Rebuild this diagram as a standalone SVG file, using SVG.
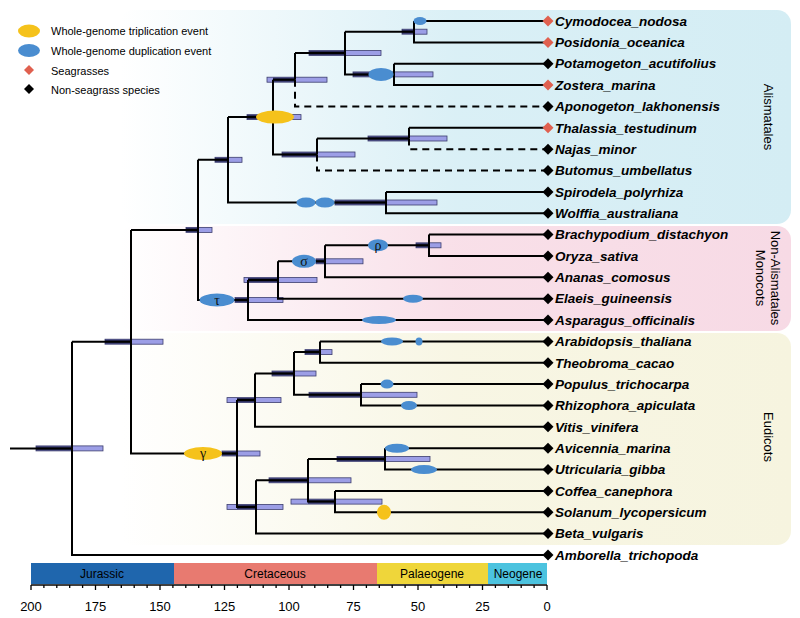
<svg xmlns="http://www.w3.org/2000/svg" width="800" height="618" viewBox="0 0 800 618">
<defs>
<linearGradient id="gBlue" x1="0" y1="0" x2="1" y2="0"><stop offset="0" stop-color="#d6eef5" stop-opacity="0"/><stop offset="0.5" stop-color="#d6eef5" stop-opacity="0.9"/><stop offset="1" stop-color="#d4edf4"/></linearGradient>
<linearGradient id="gPink" x1="0" y1="0" x2="1" y2="0"><stop offset="0" stop-color="#f8dce6" stop-opacity="0"/><stop offset="0.5" stop-color="#f8dce6" stop-opacity="0.9"/><stop offset="1" stop-color="#f7dae5"/></linearGradient>
<linearGradient id="gCream" x1="0" y1="0" x2="1" y2="0"><stop offset="0" stop-color="#f7f5e1" stop-opacity="0"/><stop offset="0.5" stop-color="#f7f5e1" stop-opacity="0.9"/><stop offset="1" stop-color="#f6f4df"/></linearGradient>
<style>
.br{fill:none;stroke:#000;stroke-width:2}
.da{fill:none;stroke:#000;stroke-width:2;stroke-dasharray:7,5}
.bl{fill:#9c9ee6;stroke:#3c3e6e;stroke-width:0.8}
.bd{fill:#2c2e5c}
.wgd{fill:#4a8dd0}
.wgt{fill:#f5c21b}
.sp{font-family:"Liberation Sans",Arial,sans-serif;font-size:13.5px;font-weight:bold;font-style:italic;fill:#000}
.lg{font-family:"Liberation Sans",Arial,sans-serif;font-size:11px;fill:#000}
.cl{font-family:"Liberation Sans",Arial,sans-serif;font-size:13px;fill:#000}
.gk{font-family:"Liberation Serif","Times New Roman",serif;font-size:14px;fill:#111;text-anchor:middle}
.ax{font-family:"Liberation Sans",Arial,sans-serif;font-size:13px;fill:#000;text-anchor:middle}
.pr{font-family:"Liberation Sans",Arial,sans-serif;font-size:12px;fill:#000;text-anchor:middle}
.sg{fill:#e0604f}
.ns{fill:#000}
</style>
</defs>
<rect width="800" height="618" fill="#fff"/>
<g id="clades">
<rect x="120" y="10" width="671" height="214" rx="14" fill="url(#gBlue)"/>
<rect x="120" y="226" width="671" height="105" rx="14" fill="url(#gPink)"/>
<rect x="120" y="333" width="671" height="212" rx="14" fill="url(#gCream)"/>
<text class="cl" transform="translate(764,117) rotate(90)" text-anchor="middle">Alismatales</text>
<text class="cl" transform="translate(771,278) rotate(90)" text-anchor="middle">Non-Alismatales</text>
<text class="cl" transform="translate(756,278) rotate(90)" text-anchor="middle">Monocots</text>
<text class="cl" transform="translate(764,437) rotate(90)" text-anchor="middle">Eudicots</text>
</g>
<g id="legend">
<ellipse class="wgt" cx="29" cy="31" rx="11" ry="6.5"/>
<text class="lg" x="51" y="35">Whole-genome triplication event</text>
<ellipse class="wgd" cx="29" cy="50.5" rx="11" ry="6.5"/>
<text class="lg" x="51" y="55">Whole-genome duplication event</text>
<polygon class="sg" points="29,65 34,70 29,75 24,70"/>
<text class="lg" x="51" y="75">Seagrasses</text>
<polygon class="ns" points="29,84 34,89 29,94 24,89"/>
<text class="lg" x="51" y="94">Non-seagrass species</text>
</g>
<g id="bars">
<rect class="bl" x="36" y="445.9" width="67" height="5"/><rect class="bd" x="36" y="446.3" width="36" height="4.2"/>
<rect class="bl" x="105" y="339.2" width="58" height="5"/><rect class="bd" x="105" y="339.6" width="26" height="4.2"/>
<rect class="bl" x="186" y="227.4" width="26" height="5"/><rect class="bd" x="186" y="227.8" width="12" height="4.2"/>
<rect class="bl" x="215" y="157.3" width="27" height="5"/><rect class="bd" x="215" y="157.7" width="13" height="4.2"/>
<rect class="bl" x="247" y="114.6" width="54" height="5"/><rect class="bd" x="247" y="115" width="26" height="4.2"/>
<rect class="bl" x="267" y="77.2" width="60" height="5"/><rect class="bd" x="273" y="77.6" width="22" height="4.2"/>
<rect class="bl" x="309" y="50.5" width="72" height="5"/><rect class="bd" x="309" y="50.9" width="36" height="4.2"/>
<rect class="bl" x="402" y="29.2" width="25" height="5"/><rect class="bd" x="402" y="29.6" width="12" height="4.2"/>
<rect class="bl" x="353" y="71.9" width="80" height="5"/><rect class="bd" x="353" y="72.3" width="41" height="4.2"/>
<rect class="bl" x="282" y="152" width="73" height="5"/><rect class="bd" x="282" y="152.4" width="35" height="4.2"/>
<rect class="bl" x="368" y="136" width="79" height="5"/><rect class="bd" x="368" y="136.4" width="41" height="4.2"/>
<rect class="bl" x="335" y="200" width="102" height="5"/><rect class="bd" x="335" y="200.4" width="51" height="4.2"/>
<rect class="bl" x="235" y="297.5" width="48" height="5"/><rect class="bd" x="235" y="297.9" width="13" height="4.2"/>
<rect class="bl" x="244" y="277.5" width="73" height="5"/><rect class="bd" x="248" y="277.9" width="30" height="4.2"/>
<rect class="bl" x="316" y="258.8" width="47" height="5"/><rect class="bd" x="316" y="259.2" width="9" height="4.2"/>
<rect class="bl" x="416" y="242.8" width="25" height="5"/><rect class="bd" x="416" y="243.2" width="13" height="4.2"/>
<rect class="bl" x="222" y="451" width="38" height="5"/><rect class="bd" x="222" y="451.4" width="15" height="4.2"/>
<rect class="bl" x="227" y="397.6" width="54" height="5"/><rect class="bd" x="237" y="398" width="18" height="4.2"/>
<rect class="bl" x="272" y="371" width="44" height="5"/><rect class="bd" x="272" y="371.4" width="22" height="4.2"/>
<rect class="bl" x="305" y="349.6" width="27" height="5"/><rect class="bd" x="305" y="350" width="15" height="4.2"/>
<rect class="bl" x="309" y="392.3" width="108" height="5"/><rect class="bd" x="309" y="392.7" width="52" height="4.2"/>
<rect class="bl" x="227" y="504.4" width="56" height="5"/><rect class="bd" x="237" y="504.8" width="19" height="4.2"/>
<rect class="bl" x="269" y="477.8" width="82" height="5"/><rect class="bd" x="269" y="478.2" width="39" height="4.2"/>
<rect class="bl" x="337" y="456.4" width="93" height="5"/><rect class="bd" x="337" y="456.8" width="48" height="4.2"/>
<rect class="bl" x="291" y="499.1" width="91" height="5"/><rect class="bd" x="308" y="499.5" width="27" height="4.2"/>
</g>
<g id="connectors">
<path class="br" d="M10,448.4H72M72,341.7V555H548M72,341.7H131M131,229.9V453.5H237M131,229.9H198M198,159.8V300H248M198,159.8H228M228,117.1V202.6H386M228,117.1H273M273,79.7V154.5H317M273,79.7H295M295,53V79.7M295,53H345M345,31.7V74.4H394M345,31.7H414M414,21V42.4H548M414,21H548M394,63.7V85.1H548M394,63.7H548M317,138.5V154.5M317,138.5H409M409,127.8V138.5M409,127.8H548M386,191.9V213.2H548M386,191.9H548"/>
<path class="da" d="M295,79.7V106.4H548M317,154.5V170.5H548M409,138.5V149.2H548"/>
<path class="br" d="M248,280V320H548M248,280H278M278,261.3V298.7H548M278,261.3H325M325,245.3V277.3H548M325,245.3H429M429,234.6V256H548M429,234.6H548"/>
<path class="br" d="M237,400.1V506.9H256M237,400.1H255M255,373.5V426.8H548M255,373.5H294M294,352.1V394.8H361M294,352.1H320M320,341.4V362.8H548M320,341.4H548M361,384.1V405.5H548M361,384.1H548M256,480.3V533.6H548M256,480.3H308M308,458.9V501.6H335M308,458.9H385M385,448.2V469.6H548M385,448.2H548M335,490.9V512.3H548M335,490.9H548"/>
</g>
<g id="events">
<ellipse class="wgd" cx="420" cy="21" rx="6.5" ry="4"/>
<ellipse class="wgd" cx="381" cy="74.4" rx="12.5" ry="6.5"/>
<ellipse class="wgt" cx="275" cy="117.1" rx="19" ry="6.5"/>
<ellipse class="wgd" cx="306" cy="202.6" rx="9.5" ry="5"/>
<ellipse class="wgd" cx="325" cy="202.6" rx="9.5" ry="5"/>
<ellipse class="wgd" cx="217" cy="300" rx="17.5" ry="6.5"/><text class="gk" x="217" y="304.5">τ</text>
<ellipse class="wgd" cx="304" cy="261.3" rx="12" ry="6.5"/><text class="gk" x="304" y="265.5">σ</text>
<ellipse class="wgd" cx="378" cy="245.3" rx="10" ry="6"/><text class="gk" x="378" y="249.5">ρ</text>
<ellipse class="wgd" cx="413" cy="298.7" rx="10" ry="4"/>
<ellipse class="wgd" cx="379" cy="320" rx="17" ry="4"/>
<ellipse class="wgd" cx="392" cy="341.4" rx="11" ry="4"/>
<ellipse class="wgd" cx="419" cy="341.4" rx="3.5" ry="4"/>
<ellipse class="wgt" cx="203" cy="453.5" rx="19" ry="6.5"/><text class="gk" x="203" y="458">γ</text>
<ellipse class="wgd" cx="387" cy="384.1" rx="6.5" ry="4.5"/>
<ellipse class="wgd" cx="409" cy="405.5" rx="8" ry="4.5"/>
<ellipse class="wgd" cx="397" cy="448.2" rx="12" ry="4.5"/>
<ellipse class="wgd" cx="424" cy="469.6" rx="13" ry="4.5"/>
<ellipse class="wgt" cx="384" cy="512.3" rx="7" ry="7.5"/>
</g>
<g id="leaves">
<g id="Cymodocea_nodosa"><polygon class="sg" points="548,15.5 553.5,21 548,26.5 542.5,21"/><text class="sp" x="555" y="25.7">Cymodocea_nodosa</text></g>
<g id="Posidonia_oceanica"><polygon class="sg" points="548,36.9 553.5,42.4 548,47.9 542.5,42.4"/><text class="sp" x="555" y="47.1">Posidonia_oceanica</text></g>
<g id="Potamogeton_acutifolius"><polygon class="ns" points="548,58.2 553.5,63.7 548,69.2 542.5,63.7"/><text class="sp" x="555" y="68.4">Potamogeton_acutifolius</text></g>
<g id="Zostera_marina"><polygon class="sg" points="548,79.6 553.5,85.1 548,90.6 542.5,85.1"/><text class="sp" x="555" y="89.8">Zostera_marina</text></g>
<g id="Aponogeton_lakhonensis"><polygon class="ns" points="548,100.9 553.5,106.4 548,111.9 542.5,106.4"/><text class="sp" x="555" y="111.1">Aponogeton_lakhonensis</text></g>
<g id="Thalassia_testudinum"><polygon class="sg" points="548,122.3 553.5,127.8 548,133.3 542.5,127.8"/><text class="sp" x="555" y="132.5">Thalassia_testudinum</text></g>
<g id="Najas_minor"><polygon class="ns" points="548,143.7 553.5,149.2 548,154.7 542.5,149.2"/><text class="sp" x="555" y="153.9">Najas_minor</text></g>
<g id="Butomus_umbellatus"><polygon class="ns" points="548,165 553.5,170.5 548,176 542.5,170.5"/><text class="sp" x="555" y="175.2">Butomus_umbellatus</text></g>
<g id="Spirodela_polyrhiza"><polygon class="ns" points="548,186.4 553.5,191.9 548,197.4 542.5,191.9"/><text class="sp" x="555" y="196.6">Spirodela_polyrhiza</text></g>
<g id="Wolffia_australiana"><polygon class="ns" points="548,207.7 553.5,213.2 548,218.7 542.5,213.2"/><text class="sp" x="555" y="217.9">Wolffia_australiana</text></g>
<g id="Brachypodium_distachyon"><polygon class="ns" points="548,229.1 553.5,234.6 548,240.1 542.5,234.6"/><text class="sp" x="555" y="239.3">Brachypodium_distachyon</text></g>
<g id="Oryza_sativa"><polygon class="ns" points="548,250.5 553.5,256 548,261.5 542.5,256"/><text class="sp" x="555" y="260.7">Oryza_sativa</text></g>
<g id="Ananas_comosus"><polygon class="ns" points="548,271.8 553.5,277.3 548,282.8 542.5,277.3"/><text class="sp" x="555" y="282">Ananas_comosus</text></g>
<g id="Elaeis_guineensis"><polygon class="ns" points="548,293.2 553.5,298.7 548,304.2 542.5,298.7"/><text class="sp" x="555" y="303.4">Elaeis_guineensis</text></g>
<g id="Asparagus_officinalis"><polygon class="ns" points="548,314.5 553.5,320 548,325.5 542.5,320"/><text class="sp" x="555" y="324.7">Asparagus_officinalis</text></g>
<g id="Arabidopsis_thaliana"><polygon class="ns" points="548,335.9 553.5,341.4 548,346.9 542.5,341.4"/><text class="sp" x="555" y="346.1">Arabidopsis_thaliana</text></g>
<g id="Theobroma_cacao"><polygon class="ns" points="548,357.3 553.5,362.8 548,368.3 542.5,362.8"/><text class="sp" x="555" y="367.5">Theobroma_cacao</text></g>
<g id="Populus_trichocarpa"><polygon class="ns" points="548,378.6 553.5,384.1 548,389.6 542.5,384.1"/><text class="sp" x="555" y="388.8">Populus_trichocarpa</text></g>
<g id="Rhizophora_apiculata"><polygon class="ns" points="548,400 553.5,405.5 548,411 542.5,405.5"/><text class="sp" x="555" y="410.2">Rhizophora_apiculata</text></g>
<g id="Vitis_vinifera"><polygon class="ns" points="548,421.3 553.5,426.8 548,432.3 542.5,426.8"/><text class="sp" x="555" y="431.5">Vitis_vinifera</text></g>
<g id="Avicennia_marina"><polygon class="ns" points="548,442.7 553.5,448.2 548,453.7 542.5,448.2"/><text class="sp" x="555" y="452.9">Avicennia_marina</text></g>
<g id="Utricularia_gibba"><polygon class="ns" points="548,464.1 553.5,469.6 548,475.1 542.5,469.6"/><text class="sp" x="555" y="474.3">Utricularia_gibba</text></g>
<g id="Coffea_canephora"><polygon class="ns" points="548,485.4 553.5,490.9 548,496.4 542.5,490.9"/><text class="sp" x="555" y="495.6">Coffea_canephora</text></g>
<g id="Solanum_lycopersicum"><polygon class="ns" points="548,506.8 553.5,512.3 548,517.8 542.5,512.3"/><text class="sp" x="555" y="517">Solanum_lycopersicum</text></g>
<g id="Beta_vulgaris"><polygon class="ns" points="548,528.1 553.5,533.6 548,539.1 542.5,533.6"/><text class="sp" x="555" y="538.3">Beta_vulgaris</text></g>
<g id="Amborella_trichopoda"><polygon class="ns" points="548,549.5 553.5,555 548,560.5 542.5,555"/><text class="sp" x="555" y="559.7">Amborella_trichopoda</text></g>
</g>
<g id="timescale">
<rect x="31" y="563" width="143" height="21" fill="#1f66ad"/>
<rect x="174" y="563" width="203" height="21" fill="#e87a70"/>
<rect x="377" y="563" width="111" height="21" fill="#efd63a"/>
<rect x="488" y="563" width="59" height="21" fill="#4cc3df"/>
<text class="pr" x="102" y="578">Jurassic</text>
<text class="pr" x="275" y="578">Cretaceous</text>
<text class="pr" x="432" y="578">Palaeogene</text>
<text class="pr" x="518" y="578">Neogene</text>
<path d="M31,585H547" stroke="#000" stroke-width="1.5" fill="none"/>
<path stroke="#000" stroke-width="1.3" fill="none" d="M31,585v5M43.9,585v3M56.8,585v3M69.7,585v3M82.6,585v3M95.5,585v5M108.4,585v3M121.3,585v3M134.2,585v3M147.1,585v3M160,585v5M172.9,585v3M185.8,585v3M198.7,585v3M211.6,585v3M224.5,585v5M237.4,585v3M250.3,585v3M263.2,585v3M276.1,585v3M289,585v5M301.9,585v3M314.8,585v3M327.7,585v3M340.6,585v3M353.5,585v5M366.4,585v3M379.3,585v3M392.2,585v3M405.1,585v3M418,585v5M430.9,585v3M443.8,585v3M456.7,585v3M469.6,585v3M482.5,585v5M495.4,585v3M508.3,585v3M521.2,585v3M534.1,585v3M547,585v5"/>
<text class="ax" x="31" y="611">200</text>
<text class="ax" x="95.5" y="611">175</text>
<text class="ax" x="160" y="611">150</text>
<text class="ax" x="224.5" y="611">125</text>
<text class="ax" x="289" y="611">100</text>
<text class="ax" x="353.5" y="611">75</text>
<text class="ax" x="418" y="611">50</text>
<text class="ax" x="482.5" y="611">25</text>
<text class="ax" x="547" y="611">0</text>
</g>
</svg>
